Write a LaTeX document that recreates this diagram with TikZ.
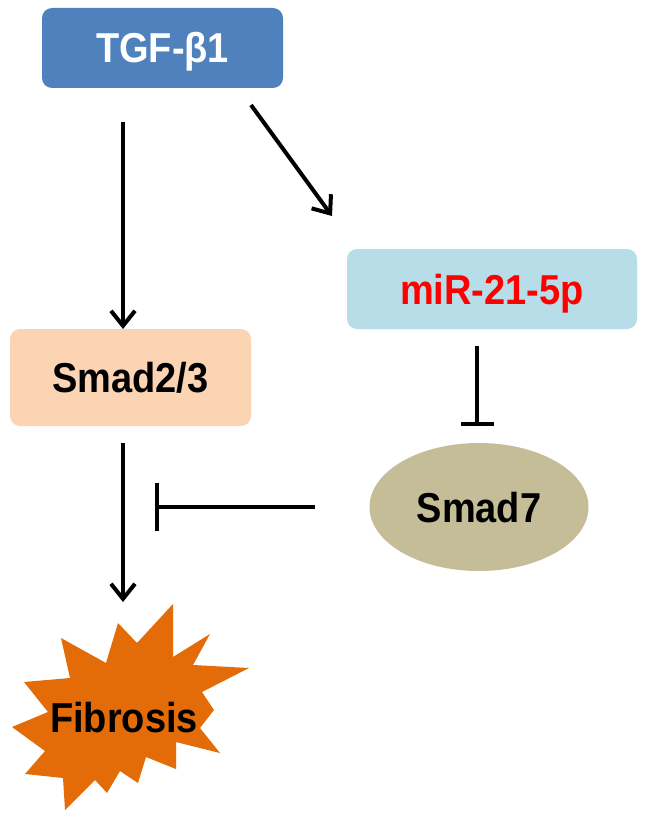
\documentclass[tikz,border=0pt]{standalone}
\usepackage{fontspec}
\setmainfont{Liberation Sans}
\usetikzlibrary{arrows.meta,shapes.geometric}
\definecolor{tgfcol}{HTML}{4F81BD}
\definecolor{smadcol}{HTML}{FBD4B4}
\definecolor{mircol}{HTML}{B7DDE8}
\definecolor{s7col}{HTML}{C4BD97}
\definecolor{fibcol}{HTML}{E36C09}
\definecolor{redtxt}{HTML}{FF0000}
\newcommand{\lbl}[1]{\scalebox{1}[1.1]{#1}}
\tikzset{
  box/.style={rectangle, rounded corners=10pt, draw=none, inner sep=0pt,
    font=\bfseries\fontsize{38}{40}\selectfont, text height=30pt, text depth=0pt, align=center},
  arr/.style={line width=4pt, -{Straight Barb[length=15pt,width=24pt]}},
  inh/.style={line width=4pt, -{Bar[width=#1]}},
}
\begin{document}
\begin{tikzpicture}[x=1pt,y=-1pt]
\useasboundingbox (0,0) rectangle (646,824);
\fill[white] (0,0) rectangle (646,824);
% nodes
\node[box, fill=tgfcol, text=white, minimum width=241pt, minimum height=80pt] (tgf) at (162.5,48) {\lbl{TGF-β1}};
\node[box, fill=smadcol, text=black, minimum width=241pt, minimum height=97pt] (smad) at (130.5,377.5) {\lbl{Smad2/3}};
\node[box, fill=mircol, text=redtxt, minimum width=290pt, minimum height=80pt] (mir) at (492,289) {\lbl{miR-21-5p}};
\node[box, ellipse, fill=s7col, text=black, minimum width=219pt, minimum height=128pt] (s7) at (479,507) {\lbl{Smad7}};
% starburst
\fill[fibcol] (173,604) -- (173,657) -- (210,634) -- (193,665) -- (249,668) -- (202,692)
  -- (214,710) -- (200,728) -- (220,753) -- (176,742) -- (176,769) -- (146,757)
  -- (138,783) -- (120,771) -- (107,793) -- (95,780) -- (65,810) -- (63,778)
  -- (25,774) -- (45,751) -- (12,727) -- (48,712) -- (24,682) -- (70,678)
  -- (61,638) -- (106,663) -- (118,623) -- (137,643) -- cycle;
\node[box, text=black] (fib) at (124,717) {\lbl{Fibrosis}};
% connector end points
\coordinate (t1) at (123,122);
\coordinate (t2) at (123,329);
\coordinate (d1) at (251,105);
\coordinate (d2) at (332,216);
\coordinate (m1) at (477,346);
\coordinate (m2) at (477,426);
\coordinate (s1) at (123,443);
\coordinate (s2) at (123,602);
\coordinate (h1) at (315,507);
\coordinate (h2) at (155,507);
% connectors
\draw[arr] (t1) -- (t2);
\draw[arr] (d1) -- (d2);
\draw[inh=33pt] (m1) -- (m2);
\draw[arr] (s1) -- (s2);
\draw[inh=48pt] (h1) -- (h2);
\end{tikzpicture}
\end{document}
